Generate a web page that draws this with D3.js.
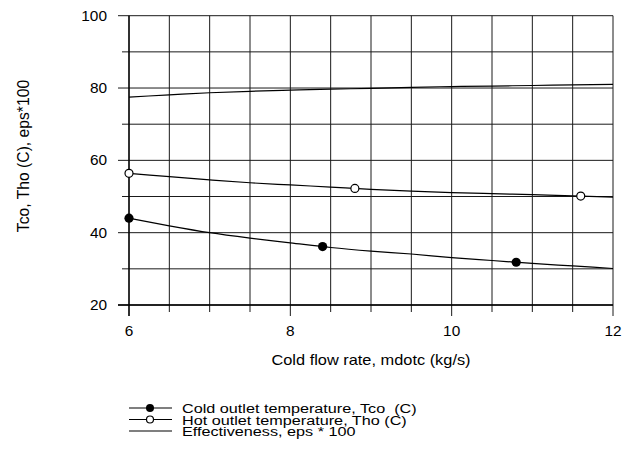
<!DOCTYPE html>
<html>
<head>
<meta charset="utf-8">
<script src="https://cdn.jsdelivr.net/npm/d3@7"></script>
<style>
  html, body { margin: 0; padding: 0; background: #fff; }
  svg { display: block; font-family: "Liberation Sans", Arial, sans-serif; }
</style>
</head>
<body>
<div id="chart"></div>
<script>
// ---- data ----
const flowRates = [6, 6.5, 7, 7.5, 8, 8.5, 9, 9.5, 10, 10.5, 11, 11.5, 12];
const tcoValues = [44.0, 41.9, 40.0, 38.5, 37.2, 35.9, 34.9, 34.1, 33.1, 32.3, 31.5, 30.8, 30.1];
const thoValues = [56.4, 55.5, 54.6, 53.8, 53.2, 52.6, 52.0, 51.5, 51.1, 50.8, 50.5, 50.2, 49.8];
const epsValues = [77.5, 78.1, 78.7, 79.1, 79.4, 79.7, 79.9, 80.2, 80.4, 80.55, 80.7, 80.85, 81.0];
const tcoMarkerX = [6, 8.4, 10.8];
const thoMarkerX = [6, 8.8, 11.6];
const xTickLabels = [6, 8, 10, 12];
const yTickLabels = [20, 40, 60, 80, 100];
const legendLabels = ["Cold outlet temperature, Tco  (C)", "Hot outlet temperature, Tho (C)", "Effectiveness, eps * 100"];
const xTitle = "Cold flow rate, mdotc (kg/s)";
const yTitle = "Tco, Tho (C), eps*100";

const W = 628, H = 450;
const svg = d3.select("#chart").append("svg").attr("width", W).attr("height", H);

const x = d3.scaleLinear().domain([6, 12]).range([129, 613]);
const y = d3.scaleLinear().domain([20, 100]).range([305, 15.7]);

const SX = 1.17; // horizontal stretch of the reference's text
const gridColor = "#1a1a1a";

// grid
const xMinor = d3.range(6, 12.001, 0.5);
const yMinor = d3.range(20, 100.001, 10);
svg.append("g").selectAll("line").data(xMinor).join("line")
  .attr("x1", d => x(d)).attr("x2", d => x(d))
  .attr("y1", y(100)).attr("y2", d => y(20) + (xTickLabels.includes(d) ? 11 : 7))
  .attr("stroke", gridColor).attr("stroke-width", 1);
svg.append("g").selectAll("line").data(yMinor).join("line")
  .attr("x1", d => x(6) - (yTickLabels.includes(d) ? 11 : 7)).attr("x2", x(12))
  .attr("y1", d => y(d)).attr("y2", d => y(d))
  .attr("stroke", gridColor).attr("stroke-width", 1);
// axes spines a bit heavier
svg.append("line").attr("x1", x(6)).attr("x2", x(6)).attr("y1", y(100)).attr("y2", y(20) + 11)
  .attr("stroke", "#000").attr("stroke-width", 1.3);
svg.append("line").attr("x1", x(6) - 11).attr("x2", x(12)).attr("y1", y(20)).attr("y2", y(20))
  .attr("stroke", "#000").attr("stroke-width", 1.3);

function stretchedText(g, tx, ty, str, size, anchor, sx) {
  return g.append("text")
    .attr("transform", `translate(${tx},${ty}) scale(${sx},1)`)
    .attr("text-anchor", anchor)
    .attr("font-size", size)
    .attr("fill", "#000")
    .style("white-space", "pre")
    .text(str);
}

// tick labels
const tl = svg.append("g");
yTickLabels.forEach(v => stretchedText(tl, 107, y(v) + 5, String(v), 14, "end", 1.1));
xTickLabels.forEach(v => stretchedText(tl, x(v), 336, String(v), 14, "middle", 1.1));

// axis titles
stretchedText(svg, (x(6) + x(12)) / 2, 365, xTitle, 14, "middle", SX);
svg.append("text")
  .attr("transform", `translate(29,${156}) rotate(-90)`)
  .attr("text-anchor", "middle")
  .attr("font-size", 15.7)
  .text(yTitle);

// curves
const line = d3.line().x((d, i) => x(flowRates[i])).y(d => y(d)).curve(d3.curveMonotoneX);
[tcoValues, thoValues, epsValues].forEach(vals => {
  svg.append("path").attr("d", line(vals)).attr("fill", "none")
    .attr("stroke", "#000").attr("stroke-width", 1.2);
});

// markers sit on the drawn series
function valueAt(vals, xv) {
  const i = Math.min(flowRates.length - 2, Math.floor((xv - 6) / 0.5));
  const t = (xv - flowRates[i]) / (flowRates[i + 1] - flowRates[i]);
  return vals[i] + t * (vals[i + 1] - vals[i]);
}
svg.append("g").selectAll("circle").data(tcoMarkerX).join("circle")
  .attr("cx", d => x(d)).attr("cy", d => y(valueAt(tcoValues, d)))
  .attr("r", 4.6).attr("fill", "#000");
svg.append("g").selectAll("circle").data(thoMarkerX).join("circle")
  .attr("cx", d => x(d)).attr("cy", d => y(valueAt(thoValues, d)))
  .attr("r", 4).attr("fill", "#fff").attr("stroke", "#000").attr("stroke-width", 1.2);

// legend
const lg = svg.append("g");
const rowsY = [408, 419.5, 431];
legendLabels.forEach((lab, i) => {
  lg.append("line").attr("x1", 129).attr("x2", 172).attr("y1", rowsY[i]).attr("y2", rowsY[i])
    .attr("stroke", "#000").attr("stroke-width", 1.2);
  if (i === 0) lg.append("circle").attr("cx", 150).attr("cy", rowsY[i]).attr("r", 4).attr("fill", "#000");
  if (i === 1) lg.append("circle").attr("cx", 150).attr("cy", rowsY[i]).attr("r", 3.5)
    .attr("fill", "#fff").attr("stroke", "#000").attr("stroke-width", 1.2);
  stretchedText(lg, 182, rowsY[i] + 5, lab, 13.5, "start", SX + 0.03);
});
</script>
</body>
</html>
